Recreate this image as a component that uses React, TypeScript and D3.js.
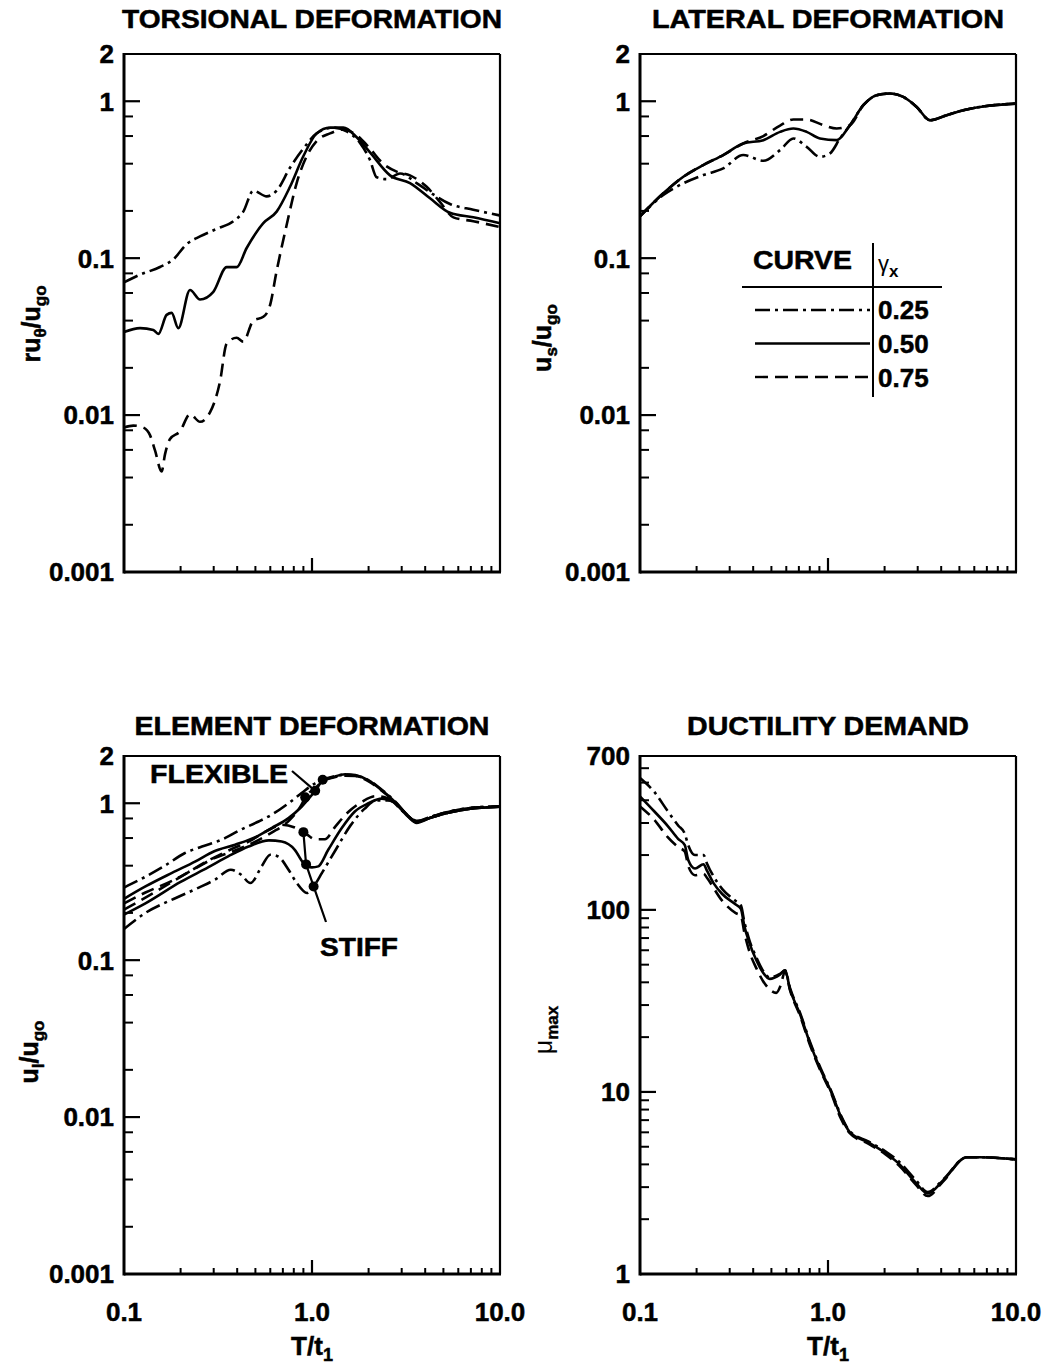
import React from 'react';
import * as d3 from 'd3';

const FONT = '"Liberation Sans", Arial, Helvetica, sans-serif';

// ---------------- DATA ----------------
// Torsional deformation  r*u_theta/u_go
const torsT_025 = [0.1, 0.1217, 0.1554, 0.183, 0.2154, 0.2537, 0.311, 0.3816, 0.431, 0.4875, 0.574, 0.6486, 0.7638, 0.899, 1.059, 1.299, 1.529, 1.8, 2.035, 2.208, 2.496, 2.94, 3.6, 4.42, 5.42, 7.21, 10];
const torsV_025 = [0.0701, 0.0785, 0.0878, 0.0982, 0.1228, 0.1375, 0.1537, 0.172, 0.198, 0.2693, 0.2475, 0.269, 0.377, 0.499, 0.624, 0.679, 0.642, 0.543, 0.4217, 0.3277, 0.3187, 0.3466, 0.301, 0.2546, 0.2213, 0.2035, 0.187];
const torsT_050 = [0.1, 0.1217, 0.1432, 0.1523, 0.1686, 0.1793, 0.1945, 0.2244, 0.2537, 0.2987, 0.3516, 0.3975, 0.4493, 0.5509, 0.6486, 0.7638, 0.899, 1.059, 1.247, 1.468, 1.729, 2.035, 2.6, 3.32, 4.244, 5.42, 7.21, 10];
const torsV_050 = [0.0338, 0.0358, 0.0348, 0.0329, 0.0435, 0.0448, 0.0358, 0.0627, 0.0545, 0.061, 0.0877, 0.0877, 0.1161, 0.1672, 0.198, 0.2849, 0.446, 0.624, 0.679, 0.679, 0.59, 0.472, 0.337, 0.301, 0.2407, 0.1945, 0.182, 0.167];
const torsT_075 = [0.1, 0.1121, 0.1267, 0.1375, 0.1462, 0.1586, 0.1652, 0.1757, 0.1986, 0.2244, 0.2537, 0.2867, 0.324, 0.3516, 0.3975, 0.431, 0.4875, 0.5509, 0.5978, 0.6486, 0.733, 0.8287, 0.9367, 1.059, 1.247, 1.468, 1.729, 2.035, 2.395, 2.82, 3.32, 4.074, 4.8, 5.65, 7.21, 10];
const torsV_075 = [0.00833, 0.00857, 0.00833, 0.00745, 0.00595, 0.00437, 0.00562, 0.00704, 0.00788, 0.01013, 0.00906, 0.0104, 0.01633, 0.0286, 0.0311, 0.0294, 0.04, 0.0423, 0.05, 0.083, 0.1626, 0.301, 0.446, 0.558, 0.624, 0.66, 0.607, 0.499, 0.399, 0.356, 0.337, 0.285, 0.2276, 0.182, 0.172, 0.158];

// Lateral deformation  u_s/u_go
const latT_025 = [0.1, 0.133, 0.17, 0.217, 0.277, 0.354, 0.453, 0.556, 0.654, 0.77, 0.906, 1.025, 1.158, 1.309, 1.541, 1.815, 2.137, 2.516, 2.962, 3.488, 4.278, 5.246, 6.434, 10];
const latV_025 = [0.185, 0.2526, 0.3, 0.3385, 0.373, 0.454, 0.4173, 0.488, 0.579, 0.512, 0.4425, 0.465, 0.579, 0.704, 0.943, 1.092, 1.12, 1.065, 0.92, 0.757, 0.815, 0.877, 0.92, 0.966];
const latT_050 = [0.1, 0.133, 0.17, 0.217, 0.277, 0.354, 0.453, 0.556, 0.654, 0.77, 0.906, 1.112, 1.309, 1.541, 1.815, 2.137, 2.516, 2.962, 3.488, 4.278, 5.246, 6.434, 10];
const latV_050 = [0.185, 0.259, 0.33, 0.392, 0.454, 0.538, 0.565, 0.638, 0.67, 0.638, 0.579, 0.565, 0.704, 0.943, 1.092, 1.12, 1.065, 0.92, 0.757, 0.815, 0.877, 0.92, 0.966];
const latT_075 = [0.1, 0.133, 0.17, 0.217, 0.277, 0.354, 0.453, 0.556, 0.654, 0.77, 0.944, 1.112, 1.309, 1.541, 1.815, 2.137, 2.516, 2.962, 3.488, 4.278, 5.246, 6.434, 10];
const latV_075 = [0.185, 0.259, 0.33, 0.392, 0.454, 0.538, 0.6, 0.7, 0.765, 0.765, 0.704, 0.67, 0.704, 0.943, 1.092, 1.12, 1.065, 0.92, 0.757, 0.815, 0.877, 0.92, 0.966];

// Element deformation  u_l/u_go (flexible and stiff elements)
const flexT_025 = [0.1, 0.13, 0.165, 0.21, 0.26, 0.33, 0.42, 0.52, 0.61, 0.75, 0.88, 1.04, 1.14, 1.3, 1.5, 1.7, 2.0, 2.35, 2.76, 3.25, 3.55, 4.3, 5.3, 6.8, 10];
const flexV_025 = [0.29, 0.34, 0.4, 0.48, 0.53, 0.585, 0.68, 0.765, 0.845, 1.0, 1.16, 1.34, 1.41, 1.48, 1.52, 1.5, 1.4, 1.22, 1.03, 0.83, 0.76, 0.82, 0.88, 0.93, 0.955];
const flexT_050 = [0.1, 0.13, 0.18, 0.24, 0.3, 0.39, 0.5, 0.61, 0.75, 0.88, 1.04, 1.14, 1.3, 1.5, 1.7, 2.0, 2.35, 2.76, 3.25, 3.6, 4.3, 5.3, 6.8, 10];
const flexV_050 = [0.246, 0.295, 0.36, 0.426, 0.493, 0.544, 0.608, 0.695, 0.804, 0.95, 1.2, 1.39, 1.47, 1.53, 1.51, 1.4, 1.21, 1.02, 0.82, 0.75, 0.81, 0.87, 0.92, 0.95];
const flexT_075 = [0.1, 0.13, 0.18, 0.24, 0.3, 0.39, 0.5, 0.61, 0.75, 0.88, 0.92, 1.04, 1.14, 1.3, 1.5, 1.7, 2.0, 2.35, 2.76, 3.25, 3.6, 4.3, 5.3, 6.8, 10];
const flexV_075 = [0.23, 0.27, 0.32, 0.385, 0.445, 0.5, 0.57, 0.65, 0.77, 0.98, 1.09, 1.25, 1.38, 1.46, 1.5, 1.49, 1.38, 1.2, 1.02, 0.83, 0.76, 0.81, 0.87, 0.92, 0.95];
const stiffT_025 = [0.1, 0.13, 0.19, 0.25, 0.305, 0.37, 0.42, 0.47, 0.54, 0.6, 0.66, 0.75, 0.83, 0.94, 1.02, 1.13, 1.33, 1.6, 1.9, 2.2, 2.6, 3.0, 3.6, 4.3, 5.3, 6.8, 10];
const stiffV_025 = [0.158, 0.2, 0.25, 0.29, 0.326, 0.377, 0.35, 0.31, 0.396, 0.47, 0.458, 0.377, 0.31, 0.268, 0.295, 0.36, 0.5, 0.72, 0.92, 1.04, 1.04, 0.9, 0.77, 0.82, 0.88, 0.93, 0.955];
const stiffT_050 = [0.1, 0.13, 0.2, 0.28, 0.36, 0.46, 0.59, 0.69, 0.81, 0.9, 1.0, 1.08, 1.22, 1.44, 1.69, 2.0, 2.35, 2.7, 3.1, 3.6, 4.3, 5.3, 6.8, 10];
const stiffV_050 = [0.195, 0.23, 0.315, 0.39, 0.46, 0.53, 0.58, 0.57, 0.505, 0.416, 0.39, 0.396, 0.505, 0.695, 0.886, 1.0, 1.07, 1.02, 0.88, 0.76, 0.81, 0.87, 0.92, 0.95];
const stiffT_075 = [0.1, 0.13, 0.2, 0.28, 0.36, 0.46, 0.61, 0.69, 0.81, 0.92, 1.04, 1.17, 1.33, 1.56, 1.84, 2.17, 2.5, 2.9, 3.3, 3.6, 4.3, 5.3, 6.8, 10];
const stiffV_075 = [0.21, 0.25, 0.34, 0.43, 0.5, 0.57, 0.69, 0.73, 0.7, 0.645, 0.59, 0.59, 0.71, 0.88, 1.02, 1.11, 1.08, 0.95, 0.82, 0.77, 0.82, 0.88, 0.93, 0.955];

// Ductility demand  mu_max
const ductT_025 = [0.1, 0.119, 0.14, 0.16, 0.173, 0.181, 0.196, 0.218, 0.227, 0.247, 0.274, 0.323, 0.344, 0.359, 0.382, 0.415, 0.45, 0.49, 0.555, 0.591, 0.629, 0.712, 0.807, 0.914, 1.036, 1.174, 1.302, 1.637, 2.016, 2.381, 2.931, 3.39, 4.09, 5.47, 6.46, 10];
const ductV_025 = [530, 445, 350, 290, 262, 225, 200, 200, 180, 152, 130, 112, 106, 86, 68, 55, 46.5, 42.5, 44.5, 46.5, 37, 27, 18.5, 13.5, 10.2, 7.4, 6.1, 5.35, 4.72, 4.15, 3.28, 2.82, 3.3, 4.38, 4.38, 4.26];
const ductT_050 = [0.1, 0.119, 0.1406, 0.1594, 0.1731, 0.1805, 0.1962, 0.2177, 0.227, 0.2466, 0.2737, 0.3231, 0.344, 0.3587, 0.3818, 0.4148, 0.4508, 0.49, 0.555, 0.591, 0.6288, 0.7122, 0.807, 0.9143, 1.036, 1.174, 1.302, 1.637, 2.016, 2.381, 2.931, 3.39, 4.09, 5.47, 6.46, 10];
const ductV_050 = [420, 348, 288.6, 245.6, 226.5, 187.8, 168.7, 178, 164.2, 139.8, 122.2, 106.9, 101.3, 81.7, 65.9, 53.2, 45.3, 41.8, 44.1, 46.5, 36.5, 26.5, 18.2, 13.2, 10.1, 7.29, 6.04, 5.28, 4.62, 4.04, 3.17, 2.77, 3.26, 4.38, 4.38, 4.26];
const ductT_075 = [0.1, 0.119, 0.14, 0.16, 0.173, 0.181, 0.196, 0.218, 0.227, 0.274, 0.323, 0.344, 0.359, 0.382, 0.415, 0.451, 0.49, 0.53, 0.56, 0.591, 0.629, 0.712, 0.807, 0.914, 1.036, 1.174, 1.302, 1.637, 2.016, 2.381, 2.931, 3.39, 4.09, 5.47, 6.46, 10];
const ductV_075 = [370, 313, 252, 221, 209, 173, 155, 158, 150, 112, 96, 93, 75, 59, 48, 40.7, 36.5, 35, 38.5, 46, 36, 26, 17.8, 13, 9.9, 7.1, 5.95, 5.2, 4.55, 3.95, 3.1, 2.68, 3.22, 4.38, 4.38, 4.26];

// Annotation anchor periods (T/t1) on the element-deformation curves
const flexMarkT = [0.92, 1.04, 1.14];   // on 0.75, 0.50, 0.25 flexible curves
const stiffMarkT = [0.9, 0.93, 1.02];   // on 0.75, 0.50, 0.25 stiff curves

// Tick labels
const xTickVals = [0.1, 1, 10];
const xTickLabels = ['0.1', '1.0', '10.0'];
const defYVals = [2, 1, 0.1, 0.01, 0.001];
const defYLabels = ['2', '1', '0.1', '0.01', '0.001'];
const ductYVals = [700, 100, 10, 1];
const ductYLabels = ['700', '100', '10', '1'];
const legendGammas = ['0.25', '0.50', '0.75'];

// ---------------- HELPERS ----------------
type Style = 'solid' | 'dashed' | 'dashdot';
const legendStyles: Style[] = ['dashdot', 'solid', 'dashed'];
const DASH: Record<Style, string | undefined> = { solid: undefined, dashed: '13,7', dashdot: '15,5,3,5' };

interface Series { t: number[]; v: number[]; style: Style }

function interpLog(t: number[], v: number[], T: number): number {
  for (let i = 0; i < t.length - 1; i++) {
    if (T >= t[i] && T <= t[i + 1]) {
      const f = (Math.log10(T) - Math.log10(t[i])) / (Math.log10(t[i + 1]) - Math.log10(t[i]));
      return Math.pow(10, Math.log10(v[i]) + f * (Math.log10(v[i + 1]) - Math.log10(v[i])));
    }
  }
  return v[v.length - 1];
}

type Sc = d3.ScaleLogarithmic<number, number>;

const BOLD = { fontWeight: 'bold' as const, stroke: '#000', strokeWidth: 0.5 };

interface PanelProps {
  left: number; right: number; top: number; bottom: number;
  yDomain: [number, number];
  yVals: number[]; yLabels: string[];
  yMinorMults: number[];
  series: Series[];
  title: string; titleWidth: number; titleY: number;
  showXLabels: boolean;
  extra?: (xs: Sc, ys: Sc) => React.ReactNode;
}

function Panel(p: PanelProps) {
  const xs = d3.scaleLog().domain([0.1, 10]).range([p.left, p.right]);
  const ys = d3.scaleLog().domain(p.yDomain).range([p.bottom, p.top]);
  const line = d3.line<[number, number]>().x(d => xs(d[0])).y(d => ys(d[1])).curve(d3.curveMonotoneX);

  const yMinor: number[] = [];
  const k0 = Math.floor(Math.log10(p.yDomain[0]));
  const k1 = Math.ceil(Math.log10(p.yDomain[1]));
  for (let k = k0; k <= k1; k++) {
    for (const m of p.yMinorMults) {
      const v = m * Math.pow(10, k);
      if (v > p.yDomain[0] * 1.0001 && v < p.yDomain[1] * 0.9999) yMinor.push(v);
    }
  }
  const yMajor = p.yVals.filter(v => v > p.yDomain[0] * 1.0001 && v < p.yDomain[1] * 0.9999);
  const xMinor: number[] = [];
  for (const k of [-1, 0]) for (let m = 2; m <= 9; m++) xMinor.push(m * Math.pow(10, k));

  const cx = (p.left + p.right) / 2;
  return (
    <g>
      <text x={cx} y={p.titleY} textAnchor="middle" fontSize={25} {...BOLD}
        textLength={p.titleWidth} lengthAdjust="spacingAndGlyphs">{p.title}</text>
      {/* frame */}
      <line x1={p.left} x2={p.right} y1={p.top} y2={p.top} stroke="#000" strokeWidth={2} />
      <line x1={p.right} x2={p.right} y1={p.top} y2={p.bottom} stroke="#000" strokeWidth={2.2} />
      <line x1={p.left} x2={p.left} y1={p.top - 1} y2={p.bottom + 1.5} stroke="#000" strokeWidth={3} />
      <line x1={p.left} x2={p.right + 1} y1={p.bottom} y2={p.bottom} stroke="#000" strokeWidth={3} />
      {/* y ticks */}
      {yMinor.map((v, i) => (
        <line key={'ym' + i} x1={p.left} x2={p.left + 9} y1={ys(v)} y2={ys(v)} stroke="#000" strokeWidth={2} />
      ))}
      {yMajor.map((v, i) => (
        <line key={'yM' + i} x1={p.left} x2={p.left + 16} y1={ys(v)} y2={ys(v)} stroke="#000" strokeWidth={2.2} />
      ))}
      {p.yVals.map((v, i) => (
        <text key={'yl' + i} x={p.left - 10} y={ys(v)} dy="0.36em" textAnchor="end" fontSize={26} {...BOLD}>{p.yLabels[i]}</text>
      ))}
      {/* x ticks */}
      {xMinor.map((v, i) => (
        <line key={'xm' + i} x1={xs(v)} x2={xs(v)} y1={p.bottom} y2={p.bottom - 6} stroke="#000" strokeWidth={2} />
      ))}
      <line x1={xs(1)} x2={xs(1)} y1={p.bottom} y2={p.bottom - 14} stroke="#000" strokeWidth={2.2} />
      {p.showXLabels && xTickVals.map((v, i) => (
        <text key={'xl' + i} x={xs(v)} y={p.bottom + 47} textAnchor="middle" fontSize={26} {...BOLD}>{xTickLabels[i]}</text>
      ))}
      {p.showXLabels && (
        <text x={xs(1)} y={p.bottom + 81} textAnchor="middle" fontSize={26} {...BOLD}>
          T/t<tspan fontSize={18} dy={6}>1</tspan>
        </text>
      )}
      {/* curves */}
      {p.series.map((s, i) => (
        <path key={'s' + i} d={line(d3.zip(s.t, s.v) as [number, number][]) || ''} fill="none" stroke="#000"
          strokeWidth={2.6} strokeDasharray={DASH[s.style]} strokeLinejoin="round" />
      ))}
      {p.extra && p.extra(xs, ys)}
    </g>
  );
}

export default function App() {
  const top0 = 54, bot0 = 572, top1 = 756, bot1 = 1274;
  const L0 = 124, R0 = 500, L1 = 640, R1 = 1016;

  const torsSeries: Series[] = [
    { t: torsT_025, v: torsV_025, style: 'dashdot' },
    { t: torsT_050, v: torsV_050, style: 'solid' },
    { t: torsT_075, v: torsV_075, style: 'dashed' },
  ];
  const latSeries: Series[] = [
    { t: latT_025, v: latV_025, style: 'dashdot' },
    { t: latT_050, v: latV_050, style: 'solid' },
    { t: latT_075, v: latV_075, style: 'dashed' },
  ];
  const elemSeries: Series[] = [
    { t: flexT_025, v: flexV_025, style: 'dashdot' },
    { t: flexT_050, v: flexV_050, style: 'solid' },
    { t: flexT_075, v: flexV_075, style: 'dashed' },
    { t: stiffT_025, v: stiffV_025, style: 'dashdot' },
    { t: stiffT_050, v: stiffV_050, style: 'solid' },
    { t: stiffT_075, v: stiffV_075, style: 'dashed' },
  ];
  const ductSeries: Series[] = [
    { t: ductT_025, v: ductV_025, style: 'dashdot' },
    { t: ductT_050, v: ductV_050, style: 'solid' },
    { t: ductT_075, v: ductV_075, style: 'dashed' },
  ];

  const flexCurves = [[flexT_075, flexV_075], [flexT_050, flexV_050], [flexT_025, flexV_025]];
  const stiffCurves = [[stiffT_075, stiffV_075], [stiffT_050, stiffV_050], [stiffT_025, stiffV_025]];

  return (
    <svg width={1048} height={1366} style={{ position: 'absolute', left: 0, top: 0 }} fontFamily={FONT}>
      <rect x={0} y={0} width={1048} height={1366} fill="#fff" />
      <Panel left={L0} right={R0} top={top0} bottom={bot0} yDomain={[0.001, 2]} yVals={defYVals} yLabels={defYLabels}
        yMinorMults={[2, 4, 6, 8]} series={torsSeries} title="TORSIONAL DEFORMATION" titleWidth={380} titleY={28}
        showXLabels={false} />
      <Panel left={L1} right={R1} top={top0} bottom={bot0} yDomain={[0.001, 2]} yVals={defYVals} yLabels={defYLabels}
        yMinorMults={[2, 4, 6, 8]} series={latSeries} title="LATERAL DEFORMATION" titleWidth={352} titleY={28}
        showXLabels={false}
        extra={() => (
          <g>
            <text x={753} y={269} fontSize={25} {...BOLD} textLength={99} lengthAdjust="spacingAndGlyphs">CURVE</text>
            <line x1={873} x2={873} y1={243} y2={397} stroke="#000" strokeWidth={2} />
            <line x1={742} x2={942} y1={287} y2={287} stroke="#000" strokeWidth={2} />
            <text x={878} y={271} fontSize={22}>γ<tspan fontSize={17} fontWeight="bold" dy={6}>x</tspan></text>
            {legendGammas.map((g, i) => (
              <g key={g}>
                <line x1={755} x2={870} y1={310 + i * 33.5} y2={310 + i * 33.5} stroke="#000" strokeWidth={2.4}
                  strokeDasharray={DASH[legendStyles[i]]} />
                <text x={878} y={319 + i * 34} fontSize={26} {...BOLD}>{g}</text>
              </g>
            ))}
          </g>
        )} />
      <Panel left={L0} right={R0} top={top1} bottom={bot1} yDomain={[0.001, 2]} yVals={defYVals} yLabels={defYLabels}
        yMinorMults={[2, 4, 6, 8]} series={elemSeries} title="ELEMENT DEFORMATION" titleWidth={355} titleY={735}
        showXLabels={true}
        extra={(xs, ys) => {
          const fp = flexCurves.map((c, i) => [xs(flexMarkT[i]), ys(interpLog(c[0], c[1], flexMarkT[i]))]);
          const sp = stiffCurves.map((c, i) => [xs(stiffMarkT[i]), ys(interpLog(c[0], c[1], stiffMarkT[i]))]);
          return (
            <g>
              <text x={150} y={783} fontSize={25} {...BOLD} textLength={138} lengthAdjust="spacingAndGlyphs">FLEXIBLE</text>
              <line x1={292} y1={771} x2={fp[1][0]} y2={fp[1][1]} stroke="#000" strokeWidth={2.2} />
              {fp.map((q, i) => <circle key={'f' + i} cx={q[0]} cy={q[1]} r={5} fill="#000" />)}
              <polyline points={[...sp.map(q => q.join(',')), '326,922'].join(' ')} fill="none" stroke="#000" strokeWidth={2.2} />
              {sp.map((q, i) => <circle key={'s' + i} cx={q[0]} cy={q[1]} r={5} fill="#000" />)}
              <text x={320} y={956} fontSize={25} {...BOLD} textLength={78} lengthAdjust="spacingAndGlyphs">STIFF</text>
            </g>
          );
        }} />
      <Panel left={L1} right={R1} top={top1} bottom={bot1} yDomain={[1, 700]} yVals={ductYVals} yLabels={ductYLabels}
        yMinorMults={[2, 3, 4, 5, 6, 7, 8, 9]} series={ductSeries} title="DUCTILITY DEMAND" titleWidth={282} titleY={735}
        showXLabels={true} />

      {/* y-axis titles */}
      <text transform="translate(40,324) rotate(-90)" textAnchor="middle" fontSize={25} {...BOLD}>
        ru<tspan fontSize={17} dy={6}>θ</tspan><tspan dy={-6}>/u</tspan><tspan fontSize={17} dy={6}>go</tspan>
      </text>
      <text transform="translate(551,338) rotate(-90)" textAnchor="middle" fontSize={25} {...BOLD}>
        u<tspan fontSize={17} dy={6}>s</tspan><tspan dy={-6}>/u</tspan><tspan fontSize={17} dy={6}>go</tspan>
      </text>
      <text transform="translate(38,1052) rotate(-90)" textAnchor="middle" fontSize={25} {...BOLD}>
        u<tspan fontSize={17} dy={6}>l</tspan><tspan dy={-6}>/u</tspan><tspan fontSize={17} dy={6}>go</tspan>
      </text>
      <text transform="translate(552,1030) rotate(-90)" textAnchor="middle" fontSize={25}>
        μ<tspan fontSize={17} fontWeight="bold" stroke="#000" strokeWidth={0.4} dy={6}>max</tspan>
      </text>
    </svg>
  );
}
